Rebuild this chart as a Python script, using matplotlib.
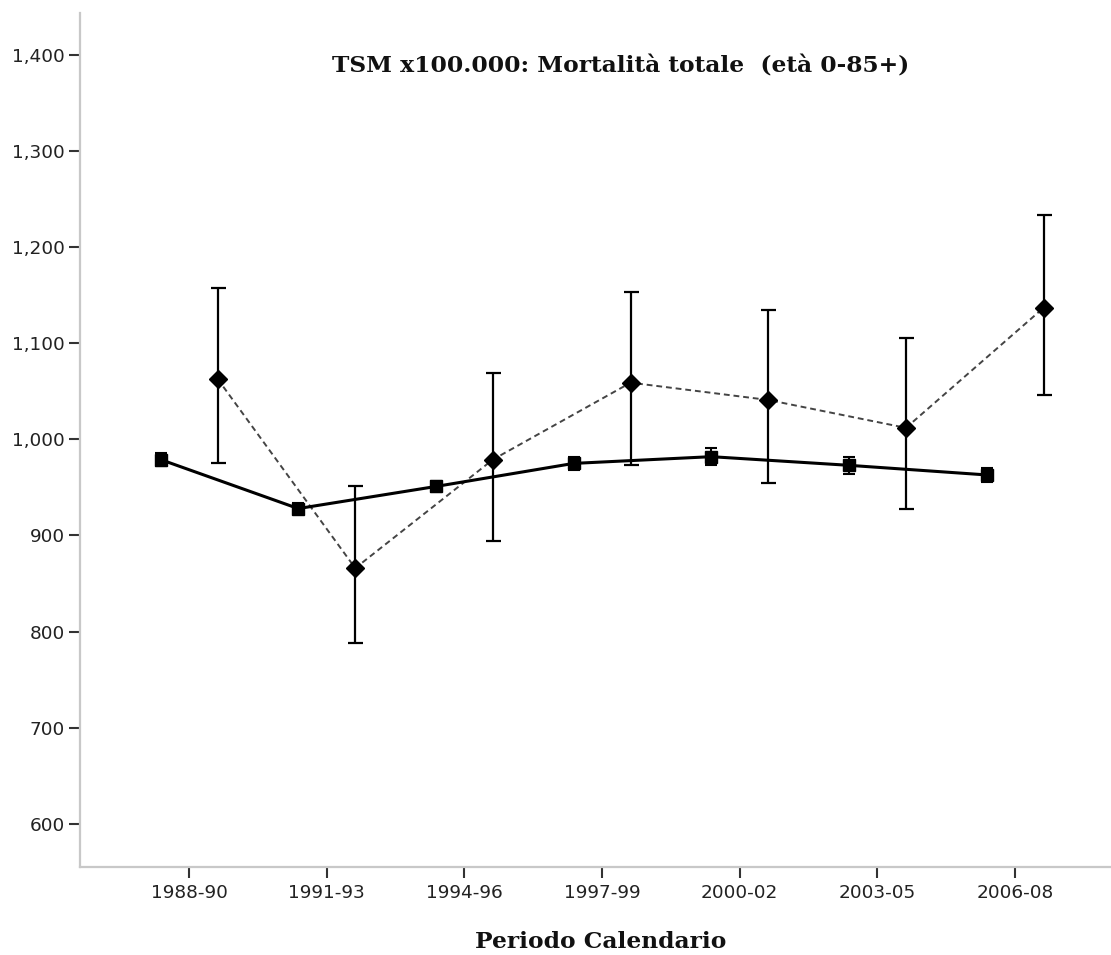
import matplotlib
matplotlib.use("Agg")
import matplotlib.pyplot as plt
import numpy as np
from matplotlib.ticker import FuncFormatter

# Calendar periods
periods = ["1988-90", "1991-93", "1994-96", "1997-99", "2000-02", "2003-05", "2006-08"]

# Reference population: standardised rate and 95% CI
ref_rate = [979, 928, 951, 975, 982, 973, 963]
ref_lo = [972, 922, 945, 968, 973, 964, 956]
ref_hi = [986, 934, 957, 982, 991, 982, 970]

# Study area: standardised rate and 95% CI
area_rate = [1063, 866, 979, 1059, 1041, 1012, 1137]
area_lo = [975, 788, 894, 973, 955, 928, 1046]
area_hi = [1158, 952, 1069, 1153, 1135, 1105, 1234]

y_ticks = [600, 700, 800, 900, 1000, 1100, 1200, 1300, 1400]

W, H = 1111, 955
fig = plt.figure(figsize=(W / 100, H / 100), dpi=100)
ax = fig.add_axes([80 / W, 1 - 867 / H, (W - 80) / W, (867 - 13) / H])

x = np.arange(len(periods))
dodge = 0.207
xr = x - dodge
xa = x + dodge

ref_rate_a = np.array(ref_rate)
area_rate_a = np.array(area_rate)

# reference series: solid line with squares
ax.errorbar(xr, ref_rate_a,
            yerr=[ref_rate_a - np.array(ref_lo), np.array(ref_hi) - ref_rate_a],
            fmt="none", ecolor="black", elinewidth=1.5, capsize=4.5, capthick=1.5, zorder=3)
ax.plot(xr, ref_rate_a, color="black", lw=2.2, marker="s", ms=8.5, mew=1,
        mfc="black", mec="black", zorder=4)

# study area series: dashed line with diamonds
ax.errorbar(xa, area_rate_a,
            yerr=[area_rate_a - np.array(area_lo), np.array(area_hi) - area_rate_a],
            fmt="none", ecolor="black", elinewidth=1.6, capsize=5.4, capthick=1.6, zorder=3)
ax.plot(xa, area_rate_a, color="#444444", lw=1.4, ls=(0, (3, 2)), zorder=2)
ax.plot(xa, area_rate_a, ls="none", marker="D", ms=9, mew=1,
        mfc="black", mec="black", zorder=5)

ax.set_xlim(-0.792, 6.696)
ax.set_ylim(555, 1443.7)

ax.set_xticks(x)
ax.set_xticklabels(periods)
ax.set_yticks(y_ticks)
ax.yaxis.set_major_formatter(FuncFormatter(lambda v, p: f"{int(v):,}"))

for s in ["top", "right"]:
    ax.spines[s].set_visible(False)
for s in ["left", "bottom"]:
    ax.spines[s].set_color("#c8c8c8")
    ax.spines[s].set_linewidth(1.6)

ax.tick_params(axis="both", direction="out", length=8, width=1.5, color="#333333",
               labelsize=13.3, labelcolor="#222222")
ax.tick_params(axis="y", pad=3)
ax.tick_params(axis="x", pad=4)
for lab in ax.get_xticklabels() + ax.get_yticklabels():
    lab.set_fontfamily("DejaVu Sans")

fig.text(621 / W, 1 - 66 / H, "TSM x100.000: Mortalità totale  (età 0-85+)",
         ha="center", va="center", fontfamily="DejaVu Serif", fontweight="bold",
         fontsize=16.8, color="#111111")
fig.text(601 / W, 1 - 942 / H, "Periodo Calendario",
         ha="center", va="center", fontfamily="DejaVu Serif", fontweight="bold",
         fontsize=16.8, color="#111111")

fig.savefig("out.png", dpi=100, facecolor="white")
